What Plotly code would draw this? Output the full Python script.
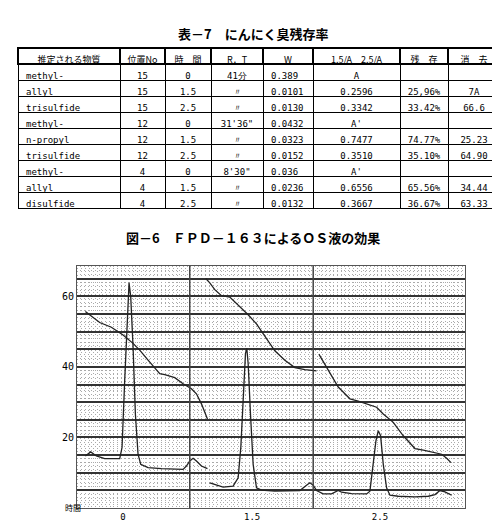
import plotly.graph_objects as go

# ---- table data (表-7) ----
substance = ["methyl-", "allyl", "trisulfide", "methyl-", "n-propyl", "trisulfide",
             "methyl-", "allyl", "disulfide"]
position = ["15", "15", "15", "12", "12", "12", "4", "4", "4"]
hours = ["0", "1.5", "2.5", "0", "1.5", "2.5", "0", "1.5", "2.5"]
rt = ["41分", "〃", "〃", "31'36\"", "〃", "〃", "8'30\"", "〃", "〃"]
weight = ["0.389", "0.0101", "0.0130", "0.0432", "0.0323", "0.0152", "0.036", "0.0236", "0.0132"]
ratio = ["A", "0.2596", "0.3342", "A'", "0.7477", "0.3510", "A'", "0.6556", "0.3667"]
remain = ["", "25,96%", "33.42%", "", "74.77%", "35.10%", "", "65.56%", "36.67%"]
removed = ["", "7A", "66.6", "", "25.23", "64.90", "", "34.44", "63.33"]
headers = ["推定される物質", "位置No", "時　間", "R．T", "W", "1.5/A　2.5/A", "残　存", "消　去"]

# ---- chart data (図-6), x in chart units, y in response ----
x_ticks = [345, 732, 1115]
x_labels = ["0", "1.5", "2.5"]
section_lines = [545, 915]

def to_y(v):
    return [(780 - p) / 10.5 for p in v]

base1_x = [232, 248, 265, 290, 335, 342, 350, 358, 363, 368, 375, 382, 390, 398, 420, 460, 500,
           525, 535, 545, 555, 565, 580, 598]
base1_y = to_y([625, 613, 625, 633, 633, 600, 400, 200, 110, 150, 300, 500, 620, 650, 660, 663,
                665, 665, 655, 640, 632, 640, 655, 663])
slope1_x = [232, 250, 275, 310, 330, 345, 375, 395, 420, 455, 470, 500, 525, 550, 565, 580, 598]
slope1_y = to_y([195, 210, 228, 242, 255, 265, 290, 310, 340, 380, 383, 392, 410, 425, 440, 470, 515])
base2_x = [605, 620, 645, 675, 690, 698, 705, 712, 716, 720, 727, 735, 745, 760, 800, 850, 875,
           895, 905, 915, 925, 945, 970, 990, 1000, 1030, 1075, 1085, 1095, 1103, 1110, 1117,
           1125, 1135, 1145, 1170, 1220, 1260, 1280, 1295, 1310, 1330]
base2_y = to_y([705, 710, 718, 715, 690, 600, 450, 320, 305, 350, 500, 650, 720, 727, 730, 730,
                728, 712, 705, 712, 728, 738, 738, 728, 733, 737, 738, 730, 650, 580, 550, 565,
                650, 720, 742, 745, 747, 745, 740, 728, 732, 742])
slope2_x = [593, 605, 620, 640, 665, 690, 720, 745, 770, 800, 830, 860, 890, 910, 925]
slope2_y = to_y([97, 110, 130, 148, 152, 175, 205, 232, 270, 312, 340, 362, 368, 370, 372])
slope3_x = [932, 945, 960, 975, 990, 1010, 1025, 1050, 1080, 1105, 1125, 1155, 1185, 1220, 1245,
            1275, 1300, 1315, 1328]
slope3_y = to_y([322, 345, 370, 395, 420, 440, 455, 462, 472, 480, 500, 525, 565, 603, 608, 615,
                 620, 632, 645])

H = 521
fig = go.Figure()

fig.add_trace(go.Table(
    domain=dict(x=[0.02, 0.984], y=[1 - 210 / H, 1 - 40 / H]),
    columnwidth=[102, 45, 46, 52, 50, 87, 48, 52],
    header=dict(values=headers, height=16, align="center", fill_color="white",
                line=dict(color="black", width=1.2),
                font=dict(family="Noto Sans CJK JP", size=9, color="black")),
    cells=dict(values=[substance, position, hours, rt, weight, ratio, remain, removed],
               height=16, align=["left", "center", "center", "center", "left", "center",
                                 "center", "center"],
               fill_color="white", line=dict(color="black", width=1),
               font=dict(family="DejaVu Sans Mono", size=9, color="black")),
))

for xs, ys in [(base1_x, base1_y), (slope1_x, slope1_y), (base2_x, base2_y),
               (slope2_x, slope2_y), (slope3_x, slope3_y)]:
    fig.add_trace(go.Scatter(x=xs, y=ys, mode="lines", line=dict(color="#222", width=1.3),
                             showlegend=False, hoverinfo="skip"))

for xv in section_lines:
    fig.add_vline(x=xv, line=dict(color="#444", width=1.5))

fig.update_layout(
    width=500, height=H, margin=dict(l=0, r=0, t=0, b=0),
    paper_bgcolor="white", plot_bgcolor="white", showlegend=False,
    xaxis=dict(domain=[69 / 500, 457 / 500], range=[207, 1370], tickvals=x_ticks,
               ticktext=x_labels, showgrid=False, zeroline=False, ticks="",
               showline=True, linecolor="#555", mirror=True,
               tickfont=dict(family="DejaVu Sans Mono", size=9, color="black"),
               minor=dict(dtick=11, tick0=207, showgrid=True, griddash="1px,3px",
                          gridcolor="#aaa", gridwidth=0.8)),
    yaxis=dict(domain=[21 / H, (H - 258) / H], range=[0, 68.6],
               tickvals=list(range(0, 70, 5)),
               ticktext=["" if v not in (20, 40, 60) else str(v) for v in range(0, 70, 5)],
               showgrid=True, gridcolor="#333", gridwidth=1.5, zeroline=False, ticks="",
               showline=True, linecolor="#555", mirror=True, layer="below traces",
               tickfont=dict(family="DejaVu Sans Mono", size=10, color="black"),
               minor=dict(dtick=1, showgrid=True, griddash="1px,3px", gridcolor="#aaa",
                          gridwidth=0.8)),
    annotations=[
        dict(text="<b>表－7　にんにく臭残存率</b>", x=0.49, y=1 - 14 / H, xref="paper",
             yref="paper", showarrow=False,
             font=dict(family="Noto Sans CJK JP", size=13, color="black")),
        dict(text="<b>図－6　ＦＰＤ－１６３によるＯＳ液の効果</b>", x=0.49, y=1 - 229 / H,
             xref="paper", yref="paper", showarrow=False,
             font=dict(family="Noto Sans CJK JP", size=13, color="black")),
        dict(text="時間", x=55 / 500, y=1 - 507 / H, xref="paper", yref="paper",
             showarrow=False, font=dict(family="Noto Sans CJK JP", size=8, color="black")),
    ],
)

fig.write_html("out.html")
